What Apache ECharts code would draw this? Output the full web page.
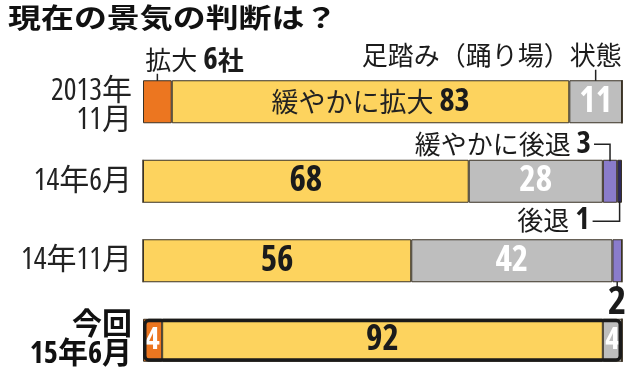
<!DOCTYPE html>
<html><head><meta charset="utf-8">
<script src="https://cdn.jsdelivr.net/npm/echarts@6/dist/echarts.min.js"></script>
<style>html,body{margin:0;padding:0;background:#fff}#c{width:640px;height:380px}</style>
</head><body><div id="c"></div>
<script>
// ---- data ----
const categories = ['2013年\n11月', '14年6月', '14年11月', '今回\n15年6月'];
const seriesNames = ['拡大', '緩やかに拡大', '足踏み（踊り場）状態', '緩やかに後退', '後退'];
const kakudai = [6, 0, 0, 4];             // 拡大
const yuruyakaKakudai = [83, 68, 56, 92];  // 緩やかに拡大
const ashibumi = [11, 28, 42, 4];          // 足踏み（踊り場）状態
const yuruyakaKoutai = [0, 3, 2, 0];       // 緩やかに後退
const koutai = [0, 1, 0, 0];               // 後退

// ---- pick a narrow font for numbers among installed ones ----
function pickNumFont() {
  const c = document.createElement('canvas').getContext('2d');
  const sample = '0123456789';
  const measure = f => { c.font = '10px monospace'; c.font = f; return c.measureText(sample).width; };
  const mono = measure('bold 100px monospace');
  const opts = [
    ['', "'Liberation Sans Narrow'"], ['', "'Arial Narrow'"], ['', "'Roboto Condensed'"],
    ['condensed', "'Open Sans'"], ['condensed', "'Noto Sans'"], ['condensed', "'Roboto'"],
    ['', "'DejaVu Sans Condensed'"], ['condensed', "'DejaVu Sans'"], ['', "'Noto Sans'"]
  ];
  let best = null;
  for (const [st, fam] of opts) {
    const w = measure((st ? st + ' ' : '') + 'bold 100px ' + fam + ', monospace');
    if (Math.abs(w - mono) < 0.5) continue;
    if (!best || w < best.w) best = { st, fam, w };
  }
  return best || { st: '', fam: 'sans-serif', w: 600 };
}
const nf = pickNumFont();
const NUMFAM = nf.fam + ", 'Noto Sans CJK JP', sans-serif";
const NUMST = nf.st || 'normal';
const NUMSIZE = Math.min(35, 17500 / nf.w);   // ~17.5px per digit
const JP = "'Noto Sans CJK JP', sans-serif";

// ---- styles ----
const colors = ['#EC7620', '#FDD35E', '#BEBEBE', '#8A7CCB', '#2D2A5E'];
const valueSets = [kakudai, yuruyakaKakudai, ashibumi, yuruyakaKoutai, koutai];
const totals = categories.map((_, i) => valueSets.reduce((s, a) => s + a[i], 0));
const highlightRow = 3;

function segStart(si, row) { let s = 0; for (let k = 0; k < si; k++) s += valueSets[k][row]; return s; }
function segMid(si, row) { return segStart(si, row) + valueSets[si][row] / 2; }

// annotations placed outside bars (series index, row)
const annotations = [
  { si: 0, row: 0, hidesValue: true,  text: `{t|${seriesNames[0]} }{b|${kakudai[0]}}{k|社}` },
  { si: 2, row: 0, hidesValue: false, text: `{t|${seriesNames[2]}}` },
  { si: 3, row: 1, hidesValue: true,  text: `{t|${seriesNames[3]} }{b|${yuruyakaKoutai[1]}}` },
  { si: 4, row: 1, hidesValue: true,  text: `{t|${seriesNames[4]} }{b|${koutai[1]}}` },
  { si: 3, row: 2, hidesValue: true,  text: `{B|${yuruyakaKoutai[2]}}` }
];
const annoLayout = [
  { dx: -12, dy: -42, align: 'left',   line: [[0, -28], [0, -21]] },
  { dx: 26,  dy: -47, align: 'right',  line: [[0, -32], [0, -21]] },
  { dx: -19, dy: -37, align: 'right',  line: [[-16, -37], [0, -37], [0, -20]] },
  { dx: -30, dy: 39,  align: 'right',  line: [[-27, 40], [0, 40], [0, 20]] },
  { dx: 0,   dy: 42,  align: 'center', line: [[0, 21], [0, 27]] }
];
const hidden = new Set(annotations.filter(a => a.hidesValue).map(a => a.si + '-' + a.row));

const numTok = (size, color) => ({ fontFamily: NUMFAM, fontStyle: NUMST, fontWeight: 'bold', fontSize: size, color });
const labelRich = {
  n: numTok(NUMSIZE, '#1b1b1b'),
  m: numTok(NUMSIZE * 0.92, '#1b1b1b'),
  w: numTok(NUMSIZE, '#ffffff'),
  s: numTok(NUMSIZE * 0.88, '#ffffff'),
  t: { fontFamily: JP, fontSize: 27, color: '#222' }
};

const barSeries = valueSets.map((vals, si) => ({
  type: 'bar', name: seriesNames[si], stack: 'all', barWidth: 43, barGap: '-100%',
  data: vals,
  itemStyle: { color: colors[si], borderColor: '#3a3224', borderWidth: 1 },
  label: {
    show: true, position: 'inside', textBorderWidth: 0,
    formatter: p => {
      if (!p.value || hidden.has(si + '-' + p.dataIndex)) return '';
      if (si === 1 && p.dataIndex === 0) return `{t|${seriesNames[1]} }{m|${p.value}}`;
      if (si === 1) return `{n|${p.value}}`;
      return p.value < 5 ? `{s|${p.value}}` : `{w|${p.value}}`;
    },
    rich: labelRich
  },
  z: 2
}));

const outlineSeries = {
  type: 'bar', name: 'outline', barWidth: 43, barGap: '-100%', silent: true,
  data: totals.map((t, i) => i === highlightRow ? t : '-'),
  itemStyle: { color: 'rgba(0,0,0,0)', borderColor: '#1a1a1a', borderWidth: 3.5, borderRadius: 4 },
  z: 3
};

const annoNum = (size) => ({ fontFamily: NUMFAM, fontStyle: NUMST, fontSize: size, fontWeight: 'bold', fill: '#1b1b1b' });
const annoSeries = {
  type: 'custom', coordinateSystem: 'cartesian2d', silent: true, clip: false, z: 5,
  encode: { x: 0, y: 1 },
  data: annotations.map((a, idx) => [segMid(a.si, a.row), a.row, idx]),
  renderItem: (params, api) => {
    const p = api.coord([api.value(0), api.value(1)]);
    const L = annoLayout[api.value(2)];
    const a = annotations[api.value(2)];
    return {
      type: 'group',
      children: [
        { type: 'polyline', shape: { points: L.line.map(([dx, dy]) => [p[0] + dx, p[1] + dy]) },
          style: { stroke: '#222', lineWidth: 1.5, fill: null } },
        { type: 'text', x: p[0] + L.dx, y: p[1] + L.dy,
          style: { text: a.text, align: L.align, verticalAlign: 'middle',
            rich: {
              t: { fontFamily: JP, fontSize: 26, fill: '#1b1b1b' },
              k: { fontFamily: JP, fontSize: 26, fontWeight: 'bold', fill: '#1b1b1b' },
              b: annoNum(NUMSIZE * 0.88),
              B: annoNum(NUMSIZE * 1.12)
            } } }
      ]
    };
  }
};

const catFam = nf.fam + ", 'Noto Sans CJK JP', sans-serif";
const chart = echarts.init(document.getElementById('c'), null, { renderer: 'canvas' });
chart.setOption({
  animation: false,
  backgroundColor: '#fff',
  graphic: [{ type: 'text', x: 8, y: 4, scaleX: 1.22,
    style: { text: '現在の景気の判断は？', font: "bold 27px 'Noto Sans CJK JP'", fill: '#111', verticalAlign: 'top' } }],
  grid: { left: 143, right: 18, top: 62, height: 322 },
  xAxis: { type: 'value', min: 0, max: 100, show: false },
  yAxis: {
    type: 'category', inverse: true, data: categories,
    axisLine: { show: false }, axisTick: { show: false },
    axisLabel: {
      margin: 11,
      formatter: (v, i) => v.split('\n').map((s, j) =>
        i === highlightRow ? `{b|${s}}` : (i === 0 && j === 0 ? `{p|${s}}` : `{r|${s}}`)).join('\n'),
      rich: {
        r: { fontFamily: catFam, fontStyle: NUMST, fontSize: 30, color: '#222', lineHeight: 27 },
        p: { fontFamily: catFam, fontStyle: NUMST, fontSize: 30, color: '#222', lineHeight: 37, verticalAlign: 'bottom' },
        b: { fontFamily: catFam, fontStyle: NUMST, fontSize: 30, fontWeight: 'bold', color: '#111', lineHeight: 29 }
      }
    }
  },
  series: [...barSeries, outlineSeries, annoSeries]
});
</script></body></html>
